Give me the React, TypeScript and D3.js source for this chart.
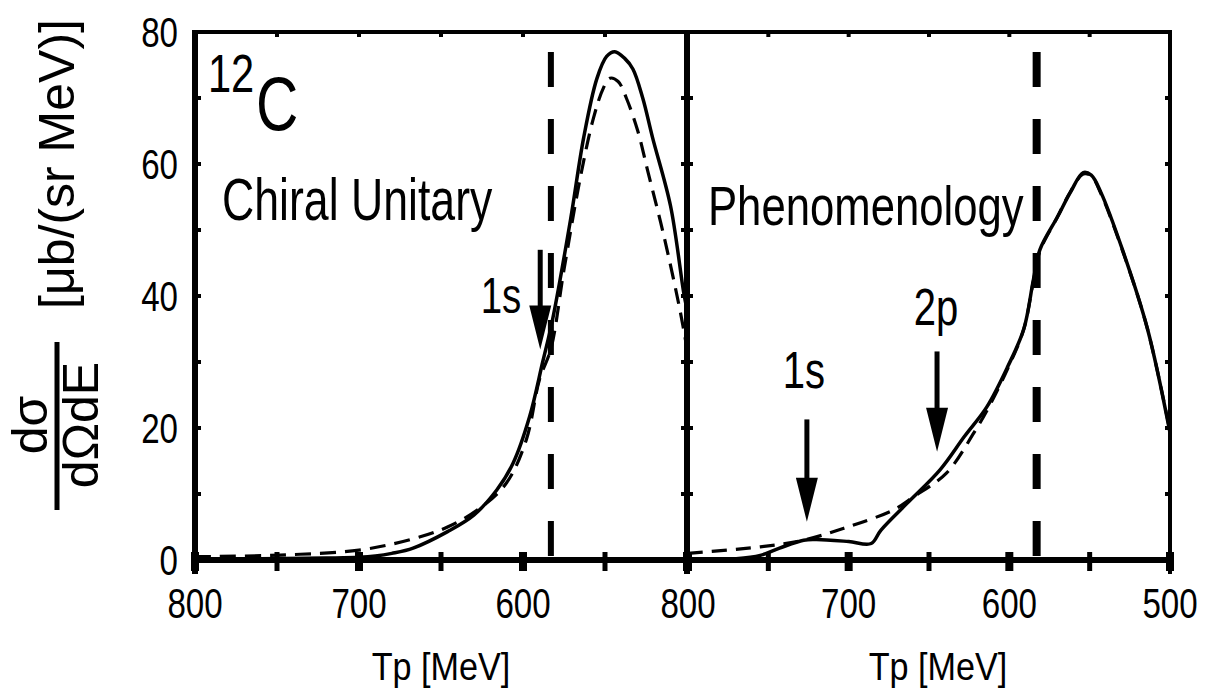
import React from "react";
import * as d3 from "d3";

// ---------- data ----------
const xTickValues = [800, 750, 700, 650, 600, 550, 500];
const xLabelLeft = [800, 700, 600];
const xLabelRight = [800, 700, 600, 500];
const yTickValues = [0, 10, 20, 30, 40, 50, 60, 70, 80];
const yLabelValues = [0, 20, 40, 60, 80];

// Left panel (Chiral Unitary)
const leftSolidTp = [800, 760, 720, 700, 690, 680, 667, 646, 630, 616, 606, 596, 588, 582, 571, 563, 555, 549, 544, 538, 533, 527, 521, 510, 502, 500];
const leftSolidVal = [0.2, 0.2, 0.3, 0.4, 0.6, 1.0, 1.8, 4.3, 6.8, 10.6, 14.7, 21.7, 30, 36.4, 51.6, 64, 72.9, 76.3, 77, 76, 74.4, 70, 64, 53.6, 40.5, 38];
const leftDashTp = [800, 748, 700, 667, 646, 626, 610, 598, 590, 583, 575, 565, 557, 551, 547, 542, 537, 530, 524, 514, 504, 500];
const leftDashVal = [0.5, 0.75, 1.5, 3.2, 5, 7.9, 11.7, 18.2, 27.3, 32, 44, 58, 67, 71.5, 73, 72.5, 70, 65, 59, 49, 37.5, 32];

// Right panel (Phenomenology)
const rightSolidTp = [800, 770, 755, 743, 728, 720, 700, 686, 680, 664, 643, 628, 614, 601, 591, 585, 581, 570, 562, 554, 549, 543, 529, 514, 500];
const rightSolidVal = [0, 0.2, 0.7, 1.8, 3.0, 3.1, 2.8, 2.5, 4.5, 8.5, 13.7, 18.7, 23.2, 29.3, 35, 42.5, 47, 52, 55.7, 58.7, 58.3, 55.7, 46.6, 35, 19.3];
const rightDashTp = [800, 755, 730, 703, 672, 660, 639, 622, 614, 601, 591, 585, 581, 570, 562, 554, 549, 543, 529, 514, 500];
const rightDashVal = [1, 2, 2.9, 4.8, 7.6, 9.5, 13.2, 19.3, 22.6, 29, 35, 42.3, 46.8, 52, 55.8, 58.5, 58.2, 55.5, 46.5, 35, 19.5];

// threshold line position (Tp)
const thresholdTp = 583;

// arrows: [Tp, top value, tip value, label]
const leftArrows = [{ tp: 589.5, top: 47, tip: 31.9, label: "1s" }];
const rightArrows = [
  { tp: 726, top: 21.3, tip: 5.8, label: "1s" },
  { tp: 645, top: 31.6, tip: 16.4, label: "2p" },
];

// ---------- layout ----------
const W = 1213;
const H = 690;
const FONT = "'Liberation Sans', Arial, Helvetica, sans-serif";

const xL = d3.scaleLinear().domain([800, 500]).range([195, 687]);
const xR = d3.scaleLinear().domain([800, 500]).range([688, 1170]);
const y = d3.scaleLinear().domain([0, 80]).range([560, 32]);

function T({ x, y, size, sx = 0.77, anchor = "start", children }: any) {
  return (
    <text
      transform={`translate(${x},${y}) scale(${sx},1)`}
      fontSize={size}
      textAnchor={anchor}
      fontFamily={FONT}
      fill="#000"
    >
      {children}
    </text>
  );
}

function curve(xs: any, tp: number[], vals: number[]) {
  const pts: [number, number][] = tp.map((t, i) => [xs(t), y(vals[i])]);
  return d3.line().curve(d3.curveCatmullRom.alpha(0.5))(pts) || "";
}

function Arrow({ xs, a, labelDx = 0, labelDy = 0, labelSide }: any) {
  const x = xs(a.tp);
  const yTop = y(a.top);
  const yTip = y(a.tip);
  const headLen = 44;
  const hw = 11;
  return (
    <g>
      <line x1={x} x2={x} y1={yTop} y2={yTip - headLen + 4} stroke="#000" strokeWidth={5} />
      <path d={`M${x - hw},${yTip - headLen} L${x + hw},${yTip - headLen} L${x},${yTip} Z`} fill="#000" />
      {labelSide}
    </g>
  );
}

export default function App() {
  const bottomY = y(0);
  const topY = y(80);
  return (
    <svg width={W} height={H} style={{ position: "absolute", left: 0, top: 0, background: "#fff" }}>
      <rect x={0} y={0} width={W} height={H} fill="#fff" />

      {/* Y label */}
      <g>
        <text transform={`translate(74,164) rotate(-90)`} fontSize={50} textAnchor="middle" fontFamily={FONT}>
          [μb/(sr MeV)]
        </text>
        <text transform={`translate(47,425) rotate(-90)`} fontSize={50} textAnchor="middle" fontFamily={FONT}>
          dσ
        </text>
        <text transform={`translate(98,425) rotate(-90)`} fontSize={50} textAnchor="middle" fontFamily={FONT}>
          dΩdE
        </text>
        <line x1={57} x2={57} y1={342} y2={510} stroke="#000" strokeWidth={5} />
      </g>

      {/* frame lines */}
      <line x1={193} x2={1172} y1={topY} y2={topY} stroke="#000" strokeWidth={4} />
      <line x1={192} x2={1172} y1={bottomY} y2={bottomY} stroke="#000" strokeWidth={6} />
      <line x1={xL(800)} x2={xL(800)} y1={topY - 2} y2={bottomY + 14} stroke="#000" strokeWidth={6} />
      <line x1={xL(500)} x2={xL(500)} y1={topY - 2} y2={bottomY + 14} stroke="#000" strokeWidth={6} />
      <line x1={xR(500)} x2={xR(500)} y1={topY - 2} y2={bottomY + 14} stroke="#000" strokeWidth={4} />

      {/* x ticks */}
      {[xL, xR].map((xs, k) => (
        <g key={"xt" + k}>
          {xTickValues.map((v) => {
            const major = v % 100 === 0;
            return (
              <g key={v}>
                <line x1={xs(v)} x2={xs(v)} y1={bottomY - 8} y2={bottomY + 11} stroke="#000" strokeWidth={major ? 8 : 5} />
                <line x1={xs(v)} x2={xs(v)} y1={topY} y2={topY + 5} stroke="#000" strokeWidth={4} />
              </g>
            );
          })}
        </g>
      ))}

      {/* y ticks */}
      {yTickValues.map((v) => (
        <g key={"yt" + v}>
          <line x1={xL(800) - 3} x2={xL(800) + 6} y1={y(v)} y2={y(v)} stroke="#000" strokeWidth={4} />
          <line x1={xL(500) - 6} x2={xL(500) + 6} y1={y(v)} y2={y(v)} stroke="#000" strokeWidth={4} />
          <line x1={xR(500) - 5} x2={xR(500)} y1={y(v)} y2={y(v)} stroke="#000" strokeWidth={4} />
        </g>
      ))}

      {/* y tick labels */}
      {yLabelValues.map((v) => (
        <T key={"yl" + v} x={178} y={y(v) + 15} size={43} anchor="end">
          {v}
        </T>
      ))}

      {/* x tick labels */}
      {xLabelLeft.map((v) => (
        <T key={"xll" + v} x={xL(v)} y={618} size={43} anchor="middle">
          {v}
        </T>
      ))}
      {xLabelRight.map((v) => (
        <T key={"xlr" + v} x={xR(v)} y={618} size={43} anchor="middle">
          {v}
        </T>
      ))}

      {/* x axis titles */}
      <T x={441} y={680} size={38} sx={0.9} anchor="middle">Tp [MeV]</T>
      <T x={938} y={680} size={38} sx={0.9} anchor="middle">Tp [MeV]</T>

      {/* threshold dashed lines */}
      <line x1={xL(thresholdTp)} x2={xL(thresholdTp)} y1={52} y2={bottomY} stroke="#000" strokeWidth={6} strokeDasharray="35,32" />
      <line x1={xR(thresholdTp)} x2={xR(thresholdTp)} y1={52} y2={bottomY} stroke="#000" strokeWidth={8} strokeDasharray="35,32" />

      {/* curves */}
      <path d={curve(xL, leftDashTp, leftDashVal)} fill="none" stroke="#000" strokeWidth={3.2} strokeDasharray="16,9" />
      <path d={curve(xL, leftSolidTp, leftSolidVal)} fill="none" stroke="#000" strokeWidth={3.5} />
      <path d={curve(xR, rightDashTp, rightDashVal)} fill="none" stroke="#000" strokeWidth={3.2} strokeDasharray="15,9" />
      <path d={curve(xR, rightSolidTp, rightSolidVal)} fill="none" stroke="#000" strokeWidth={3.5} />

      {/* arrows */}
      {leftArrows.map((a) => (
        <Arrow key={"la" + a.label} xs={xL} a={a} />
      ))}
      {rightArrows.map((a) => (
        <Arrow key={"ra" + a.label} xs={xR} a={a} />
      ))}
      <T x={501} y={313} size={50} anchor="middle">1s</T>
      <T x={804} y={388} size={52} anchor="middle">1s</T>
      <T x={936} y={325} size={52} anchor="middle">2p</T>

      {/* panel texts */}
      <T x={208} y={92} size={54}>12</T>
      <T x={256} y={130} size={76}>C</T>
      <T x={222} y={220} size={60} sx={0.744}>Chiral Unitary</T>
      <T x={708} y={225} size={56} sx={0.78}>Phenomenology</T>
    </svg>
  );
}
